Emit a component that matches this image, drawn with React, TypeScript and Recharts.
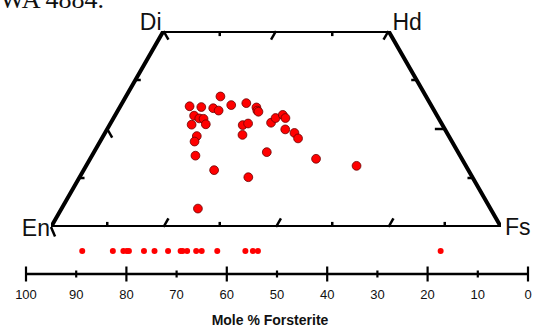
import React from 'react';
import {
  ScatterChart,
  Scatter,
  XAxis,
  YAxis,
  ReferenceLine,
  ReferenceDot,
} from 'recharts';

// pyroxene compositions (mol %), Wo and Fs
const woPct = [
  30.8, 30.6, 33.3, 30.3, 29.7, 31.1, 31.6, 30.5, 29.7, 29.4,
  28.4, 27.7, 27.6, 26.1, 26.2, 26.0, 26.4, 26.6, 27.8, 28.6,
  27.8, 24.9, 24.0, 22.6, 23.2, 21.8, 23.5, 18.2, 19.1, 17.4,
  15.6, 14.5, 12.7, 4.7,
];
const fsPct = [
  15.4, 18.1, 21.0, 20.9, 22.4, 24.5, 27.6, 30.4, 31.0, 31.4,
  17.6, 19.1, 20.1, 18.2, 21.3, 29.6, 30.6, 35.6, 36.0, 37.2,
  38.2, 39.6, 42.1, 43.6, 20.8, 21.0, 30.8, 23.0, 38.4, 50.2,
  60.1, 29.0, 37.5, 30.3,
];

// olivine compositions (mol % Fo)
const foPct = [
  88.8, 82.7, 80.6, 79.9, 79.5, 76.5, 74.4, 71.7, 69.2, 68.8,
  67.9, 66.1, 65.0, 61.9, 56.3, 54.8, 53.8, 17.4,
];
const foTicks = [100, 90, 80, 70, 60, 50, 40, 30, 20, 10, 0];

// quadrilateral corners as [x, Wo], x = Fs + Wo/2
const corners = [
  { name: 'En', x: 0, y: 0 },
  { name: 'Di', x: 25, y: 50 },
  { name: 'Hd', x: 75, y: 50 },
  { name: 'Fs', x: 100, y: 0 },
];
const edgeTickFracs = [0.125, 0.25, 0.375, 0.5, 0.625, 0.75, 0.875];
const sideTickWo = [37.5, 25, 12.5];

const quadData = woPct.map((wo, i) => ({ x: fsPct[i] + wo / 2, y: wo }));
const frameData = [...corners, corners[0]].map((c) => ({ x: c.x, y: c.y }));
const olivineData = foPct.map((fo) => ({ fo, y: 0.5 }));

type Seg = [{ x: number; y: number }, { x: number; y: number }];
const tickSegs: Seg[] = [];
edgeTickFracs.forEach((f, i) => {
  const x = f * 100;
  const major = i % 2 === 1;
  tickSegs.push(major ? [{ x, y: 0 }, { x: x + 1.1, y: 2.2 }] : [{ x, y: 0 }, { x, y: 1.3 }]);
});
[0.25, 0.5, 0.75].forEach((f, i) => {
  const x = 25 + f * 50;
  tickSegs.push(i === 1 ? [{ x, y: 50 }, { x: x - 1.1, y: 47.8 }] : [{ x, y: 50 }, { x, y: 48.7 }]);
});
sideTickWo.forEach((wo, i) => {
  const xl = wo / 2;
  const xr = 100 - wo / 2;
  if (i === 1) {
    tickSegs.push([{ x: xl, y: wo }, { x: xl + 1.1, y: wo - 2.2 }]);
    tickSegs.push([{ x: xr, y: wo }, { x: xr - 2.2, y: wo }]);
  } else {
    tickSegs.push([{ x: xl, y: wo }, { x: xl + 1.2, y: wo }]);
    tickSegs.push([{ x: xr, y: wo }, { x: xr - 1.2, y: wo }]);
  }
});
tickSegs.push([{ x: 25, y: 50 }, { x: 26.1, y: 47.8 }]);
tickSegs.push([{ x: 75, y: 50 }, { x: 73.9, y: 47.8 }]);
tickSegs.push([{ x: 0, y: 0 }, { x: 0.9, y: -2.4 }]);

const FONT = '"Liberation Sans", Arial, sans-serif';

const labelOffsets: Record<string, { dx: number; dy: number; anchor: 'start' | 'end' }> = {
  En: { dx: -1, dy: 9, anchor: 'end' },
  Di: { dx: -2, dy: -1, anchor: 'end' },
  Hd: { dx: 4, dy: -1, anchor: 'start' },
  Fs: { dx: 4, dy: 8, anchor: 'start' },
};

const FoTick = ({ x, y, payload }: any) => {
  const major = payload.value % 20 === 0;
  const h = major ? 7.5 : 3.5;
  return (
    <g>
      <line x1={x} x2={x} y1={y - h} y2={y + h} stroke="#000" strokeWidth={2.2} />
      <text x={x} y={y + 25} textAnchor="middle" fontSize={13} fontFamily={FONT} fill="#111">
        {payload.value}
      </text>
    </g>
  );
};

export default function App() {
  return (
    <div style={{ position: 'absolute', left: 0, top: 0, width: 543, height: 329, background: '#fff' }}>
      <svg width={543} height={329} style={{ position: 'absolute', left: 0, top: 0 }}>
        <text x={0} y={8} fontSize={26} fontFamily='"Liberation Serif", serif' fill="#111">
          WA 4884.
        </text>
        <text x={270} y={325} textAnchor="middle" fontSize={14} fontWeight="bold" fontFamily={FONT} fill="#111">
          Mole % Forsterite
        </text>
      </svg>

      <div style={{ position: 'absolute', left: 0, top: 0 }}>
        <ScatterChart width={543} height={329} margin={{ top: 228, right: 15, bottom: 0, left: 26 }}>
          <XAxis
            dataKey="fo"
            type="number"
            domain={[0, 100]}
            reversed
            ticks={foTicks}
            interval={0}
            height={55}
            tickSize={0}
            tickMargin={0}
            tickLine={false}
            axisLine={{ stroke: '#000', strokeWidth: 2.5 }}
            tick={<FoTick />}
          />
          <YAxis dataKey="y" type="number" domain={[0, 1]} hide />
          <Scatter
            data={olivineData}
            isAnimationActive={false}
            shape={(p: any) => <circle cx={p.cx} cy={p.cy} r={3} fill="#ff0000" />}
          />
        </ScatterChart>
      </div>

      <div style={{ position: 'absolute', left: 0, top: 0 }}>
        <ScatterChart width={543} height={329} margin={{ top: 31, right: 42, bottom: 102, left: 51 }}>
          <XAxis dataKey="x" type="number" domain={[0, 100]} hide allowDataOverflow />
          <YAxis dataKey="y" type="number" domain={[0, 50]} hide allowDataOverflow />
          {tickSegs.map((s, i) => (
            <ReferenceLine key={i} segment={s} stroke="#000" strokeWidth={2.5} ifOverflow="visible" />
          ))}
          <Scatter
            data={frameData}
            isAnimationActive={false}
            line={{ stroke: '#000', strokeWidth: 4 }}
            shape={() => <g />}
          />
          {corners.map((c) => {
            const o = labelOffsets[c.name];
            return (
              <ReferenceDot
                key={c.name}
                x={c.x}
                y={c.y}
                r={0}
                ifOverflow="visible"
                shape={(p: any) => (
                  <text
                    x={p.cx + o.dx}
                    y={p.cy + o.dy}
                    textAnchor={o.anchor}
                    fontSize={23}
                    fontFamily={FONT}
                    fill="#111"
                  >
                    {c.name}
                  </text>
                )}
              />
            );
          })}
          <Scatter
            data={quadData}
            isAnimationActive={false}
            shape={(p: any) => (
              <circle cx={p.cx} cy={p.cy} r={4.4} fill="#ff0000" stroke="#6a0000" strokeWidth={0.8} />
            )}
          />
        </ScatterChart>
      </div>
    </div>
  );
}
